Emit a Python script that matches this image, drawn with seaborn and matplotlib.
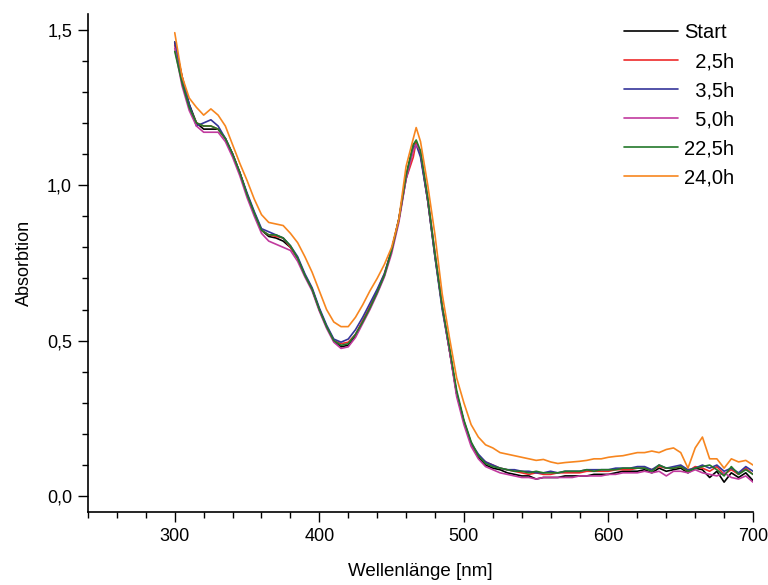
import numpy as np
import pandas as pd
import matplotlib
matplotlib.use("Agg")
import matplotlib.pyplot as plt
from matplotlib.ticker import MultipleLocator, FuncFormatter
import seaborn as sns

sns.set_theme(style="ticks")
plt.rcParams["font.family"] = ["Liberation Sans", "DejaVu Sans"]
plt.rcParams["axes.edgecolor"] = "black"
plt.rcParams["xtick.color"] = "black"
plt.rcParams["ytick.color"] = "black"
plt.rcParams["text.color"] = "black"
plt.rcParams["axes.labelcolor"] = "black"

# wavelength grid [nm]
wl = [300, 305, 310, 315, 320, 325, 330, 335, 340, 345,
      350, 355, 360, 365, 370, 375, 380, 385, 390, 395,
      400, 405, 410, 415, 420, 425, 430, 435, 440, 445,
      450, 455, 460, 465, 467, 470, 475, 480, 485, 490,
      495, 500, 505, 510, 515, 520, 525, 530, 535, 540,
      545, 550, 555, 560, 565, 570, 575, 580, 585, 590,
      595, 600, 605, 610, 615, 620, 625, 630, 635, 640,
      645, 650, 655, 660, 665, 670, 675, 680, 685, 690,
      695, 700]

start = [1.46, 1.35, 1.26, 1.20, 1.18, 1.18, 1.18, 1.15, 1.10, 1.04,
         0.97, 0.91, 0.855, 0.835, 0.83, 0.82, 0.80, 0.765, 0.71, 0.665,
         0.60, 0.545, 0.50, 0.48, 0.485, 0.515, 0.56, 0.605, 0.655, 0.71,
         0.79, 0.89, 1.03, 1.13, 1.14, 1.10, 0.95, 0.77, 0.61, 0.47,
         0.33, 0.24, 0.17, 0.125, 0.10, 0.09, 0.085, 0.075, 0.07, 0.065,
         0.065, 0.055, 0.06, 0.06, 0.06, 0.065, 0.065, 0.065, 0.065, 0.07,
         0.07, 0.07, 0.075, 0.08, 0.08, 0.08, 0.085, 0.075, 0.09, 0.08,
         0.085, 0.09, 0.075, 0.09, 0.085, 0.06, 0.08, 0.045, 0.075, 0.06,
         0.075, 0.05]

h2_5 = [1.45, 1.35, 1.25, 1.20, 1.19, 1.19, 1.18, 1.15, 1.10, 1.04,
        0.97, 0.91, 0.855, 0.84, 0.835, 0.83, 0.80, 0.765, 0.71, 0.665,
        0.60, 0.545, 0.50, 0.49, 0.495, 0.52, 0.565, 0.61, 0.66, 0.715,
        0.79, 0.89, 1.02, 1.09, 1.14, 1.10, 0.95, 0.78, 0.61, 0.47,
        0.33, 0.24, 0.17, 0.13, 0.11, 0.10, 0.09, 0.085, 0.08, 0.075,
        0.07, 0.075, 0.07, 0.07, 0.075, 0.075, 0.075, 0.075, 0.08, 0.08,
        0.08, 0.08, 0.085, 0.085, 0.085, 0.09, 0.09, 0.085, 0.095, 0.09,
        0.09, 0.095, 0.08, 0.095, 0.09, 0.08, 0.095, 0.07, 0.085, 0.07,
        0.09, 0.07]

h3_5 = [1.46, 1.34, 1.26, 1.19, 1.20, 1.21, 1.19, 1.15, 1.10, 1.04,
        0.975, 0.915, 0.86, 0.85, 0.84, 0.83, 0.805, 0.77, 0.715, 0.67,
        0.605, 0.55, 0.505, 0.495, 0.505, 0.535, 0.575, 0.62, 0.665, 0.715,
        0.79, 0.89, 1.02, 1.12, 1.13, 1.09, 0.95, 0.77, 0.60, 0.47,
        0.33, 0.24, 0.17, 0.135, 0.11, 0.10, 0.09, 0.085, 0.085, 0.08,
        0.08, 0.075, 0.075, 0.08, 0.075, 0.08, 0.08, 0.08, 0.085, 0.085,
        0.085, 0.085, 0.09, 0.09, 0.09, 0.095, 0.095, 0.085, 0.10, 0.09,
        0.095, 0.10, 0.085, 0.09, 0.10, 0.09, 0.10, 0.08, 0.09, 0.075,
        0.095, 0.08]

h5_0 = [1.44, 1.32, 1.24, 1.19, 1.17, 1.17, 1.17, 1.14, 1.09, 1.03,
        0.96, 0.90, 0.845, 0.82, 0.81, 0.80, 0.79, 0.755, 0.705, 0.66,
        0.595, 0.54, 0.495, 0.475, 0.48, 0.51, 0.555, 0.60, 0.65, 0.705,
        0.78, 0.88, 1.02, 1.11, 1.13, 1.11, 0.96, 0.78, 0.61, 0.47,
        0.32, 0.23, 0.16, 0.12, 0.095, 0.085, 0.075, 0.07, 0.065, 0.06,
        0.06, 0.055, 0.06, 0.06, 0.06, 0.06, 0.06, 0.065, 0.065, 0.065,
        0.065, 0.07, 0.07, 0.075, 0.075, 0.075, 0.08, 0.075, 0.08, 0.065,
        0.08, 0.08, 0.075, 0.085, 0.075, 0.07, 0.065, 0.075, 0.06, 0.055,
        0.065, 0.045]

h22_5 = [1.43, 1.33, 1.25, 1.20, 1.19, 1.19, 1.18, 1.15, 1.10, 1.04,
         0.97, 0.91, 0.855, 0.84, 0.84, 0.83, 0.805, 0.765, 0.71, 0.665,
         0.60, 0.545, 0.50, 0.485, 0.49, 0.52, 0.56, 0.605, 0.655, 0.71,
         0.79, 0.89, 1.03, 1.13, 1.145, 1.11, 0.96, 0.78, 0.61, 0.48,
         0.34, 0.245, 0.175, 0.13, 0.105, 0.095, 0.09, 0.085, 0.08, 0.08,
         0.075, 0.08, 0.075, 0.075, 0.075, 0.08, 0.08, 0.08, 0.085, 0.08,
         0.085, 0.085, 0.085, 0.09, 0.09, 0.09, 0.09, 0.08, 0.10, 0.09,
         0.09, 0.095, 0.08, 0.09, 0.095, 0.10, 0.085, 0.065, 0.095, 0.07,
         0.085, 0.07]

h24_0 = [1.49, 1.35, 1.28, 1.25, 1.225, 1.245, 1.225, 1.19, 1.13, 1.07,
         1.015, 0.955, 0.905, 0.88, 0.875, 0.87, 0.845, 0.815, 0.77, 0.72,
         0.66, 0.60, 0.56, 0.545, 0.545, 0.575, 0.615, 0.66, 0.70, 0.745,
         0.80, 0.89, 1.06, 1.15, 1.185, 1.14, 1.00, 0.84, 0.65, 0.51,
         0.38, 0.30, 0.23, 0.19, 0.165, 0.155, 0.14, 0.135, 0.13, 0.125,
         0.12, 0.115, 0.118, 0.11, 0.105, 0.108, 0.11, 0.112, 0.115, 0.12,
         0.12, 0.125, 0.128, 0.13, 0.135, 0.14, 0.14, 0.145, 0.14, 0.15,
         0.155, 0.14, 0.09, 0.155, 0.19, 0.12, 0.12, 0.09, 0.12, 0.11,
         0.115, 0.10]

labels = ["Start", "  2,5h", "  3,5h", "  5,0h", "22,5h", "24,0h"]
series = [start, h2_5, h3_5, h5_0, h22_5, h24_0]
colors = ["#000000", "#ee2a2a", "#35359a", "#c13a9e", "#23782a", "#f7861f"]

df = pd.concat([pd.DataFrame({"wl": wl, "A": s, "Probe": lab})
                for s, lab in zip(series, labels)], ignore_index=True)

fig = plt.figure(figsize=(7.68, 5.85), dpi=100)
ax = fig.add_axes([0.1146, 0.1253, 0.8659, 0.8507])
sns.lineplot(data=df, x="wl", y="A", hue="Probe", hue_order=labels,
             palette=colors, estimator=None, sort=False, linewidth=1.2, ax=ax)

ax.set_xlim(240, 700)
ax.set_ylim(-0.05, 1.55)
ax.xaxis.set_major_locator(MultipleLocator(100))
ax.xaxis.set_minor_locator(MultipleLocator(20))
ax.yaxis.set_major_locator(MultipleLocator(0.5))
ax.yaxis.set_minor_locator(MultipleLocator(0.1))
ax.yaxis.set_major_formatter(FuncFormatter(lambda v, _: f"{v:.1f}".replace(".", ",")))
ax.xaxis.set_major_formatter(FuncFormatter(lambda v, _: f"{v:.0f}" if v >= 300 else ""))
ax.tick_params(which="major", length=7, width=1.0, labelsize=13, pad=4.5, direction="out")
ax.tick_params(which="minor", length=4, width=1.0, direction="out")
sns.despine(ax=ax)
for sp in ["left", "bottom"]:
    ax.spines[sp].set_linewidth(1.2)

ax.set_xlabel("Wellenlänge [nm]", fontsize=13.5, labelpad=13)
ax.set_ylabel("Absorbtion", fontsize=13, labelpad=10)

leg = ax.legend(loc="upper left", bbox_to_anchor=(0.80, 0.99), frameon=False,
                fontsize=14.5, handlelength=2.7, handletextpad=0.3,
                labelspacing=0.5, borderaxespad=0, borderpad=0.2)
for line in leg.get_lines():
    line.set_linewidth(1.2)

fig.savefig("out.png", dpi=100)
